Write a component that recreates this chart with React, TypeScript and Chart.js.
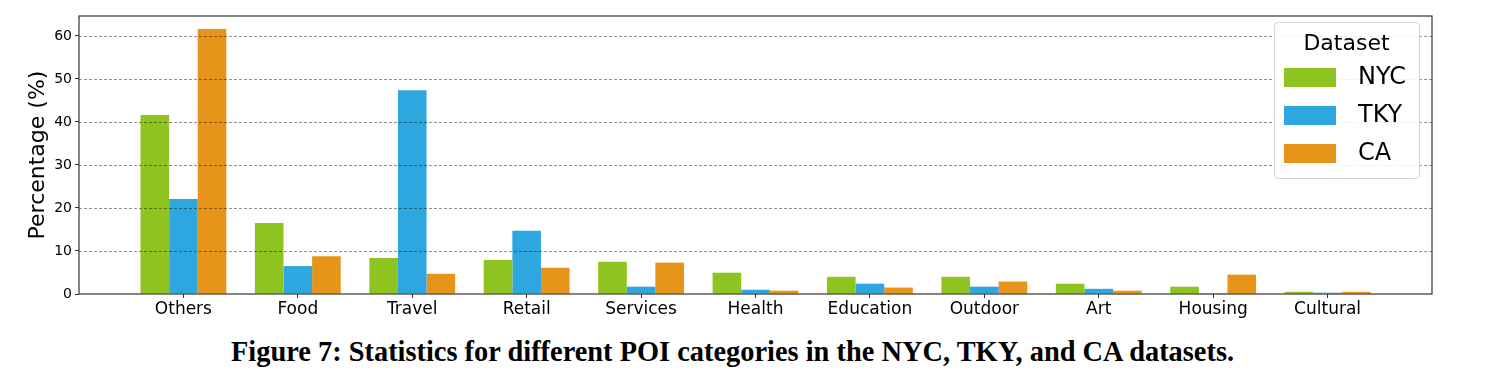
import React, { useEffect, useRef } from 'react';
import { Chart, registerables } from 'chart.js';

Chart.register(...registerables);

const categories = ['Others', 'Food', 'Travel', 'Retail', 'Services', 'Health', 'Education', 'Outdoor', 'Art', 'Housing', 'Cultural'];
const seriesNames = ['NYC', 'TKY', 'CA'];
const nycValues = [41.6, 16.5, 8.4, 7.9, 7.5, 4.95, 4.0, 4.0, 2.4, 1.7, 0.5];
const tkyValues = [22.1, 6.5, 47.4, 14.7, 1.7, 1.0, 2.4, 1.7, 1.2, 0.05, 0.3];
const caValues = [61.6, 8.8, 4.7, 6.1, 7.3, 0.77, 1.5, 2.9, 0.77, 4.5, 0.5];
const yTickValues = [0, 10, 20, 30, 40, 50, 60];

const seriesColors = ['#8fc31f', '#2ea7e0', '#e6941a'];
const legendTitle = 'Dataset';
const yTitle = 'Percentage (%)';
const caption = 'Figure 7: Statistics for different POI categories in the NYC, TKY, and CA datasets.';

const gridAndFrame = {
  id: 'gridAndFrame',
  afterDatasetsDraw(chart: any) {
    const { ctx, chartArea, scales } = chart;
    const y = scales.y;
    ctx.save();
    ctx.strokeStyle = 'rgba(0,0,0,0.55)';
    ctx.lineWidth = 0.8;
    ctx.setLineDash([3, 2]);
    y.ticks.forEach((t: any) => {
      if (t.value === 0) return;
      const py = Math.round(y.getPixelForValue(t.value)) + 0.5;
      ctx.beginPath();
      ctx.moveTo(chartArea.left, py);
      ctx.lineTo(chartArea.right, py);
      ctx.stroke();
    });
    ctx.setLineDash([]);
    ctx.strokeStyle = '#333';
    ctx.lineWidth = 1.2;
    ctx.strokeRect(
      Math.round(chartArea.left),
      Math.round(chartArea.top),
      Math.round(chartArea.right - chartArea.left),
      Math.round(chartArea.bottom - chartArea.top)
    );
    ctx.restore();
  },
};

const boxedLegend = {
  id: 'boxedLegend',
  afterDraw(chart: any) {
    const { ctx, chartArea } = chart;
    const w = 145;
    const h = 156;
    const x0 = Math.round(chartArea.right - 13 - w);
    const y0 = Math.round(chartArea.top + 6);
    ctx.save();
    ctx.beginPath();
    ctx.roundRect(x0 + 0.5, y0 + 0.5, w, h, 4);
    ctx.fillStyle = 'rgba(255,255,255,0.85)';
    ctx.fill();
    ctx.strokeStyle = '#d4d4d4';
    ctx.lineWidth = 1;
    ctx.stroke();
    ctx.fillStyle = '#000';
    ctx.font = '22px "DejaVu Sans"';
    ctx.textAlign = 'center';
    ctx.textBaseline = 'alphabetic';
    ctx.fillText(legendTitle, x0 + w / 2, y0 + 27.5);
    chart.data.datasets.forEach((ds: any, i: number) => {
      const sy = y0 + 46 + i * 38;
      ctx.fillStyle = ds.backgroundColor;
      ctx.fillRect(x0 + 10, sy, 52, 19);
      ctx.fillStyle = '#000';
      ctx.font = '24px "DejaVu Sans"';
      ctx.textAlign = 'left';
      ctx.textBaseline = 'middle';
      ctx.fillText(ds.label, x0 + 84, sy + 10);
    });
    ctx.restore();
  },
};

export default function App() {
  const ref = useRef<HTMLCanvasElement | null>(null);

  useEffect(() => {
    if (!ref.current) return;
    const all = [nycValues, tkyValues, caValues];
    const chart = new Chart(ref.current, {
      type: 'bar',
      data: {
        datasets: seriesNames.map((name, s) => ({
          label: name,
          data: all[s].map((v, i) => ({ x: i, y: v })),
          backgroundColor: seriesColors[s],
          borderWidth: 0,
          categoryPercentage: 0.75,
          barPercentage: 1.0,
        })),
      },
      options: {
        responsive: false,
        animation: false,
        layout: { padding: { top: 16, right: 56, left: 0, bottom: 0 } },
        plugins: {
          legend: { display: false },
          tooltip: { enabled: false },
        },
        scales: {
          x: {
            type: 'linear',
            offset: false,
            min: -0.9125,
            max: 10.9125,
            afterBuildTicks: (scale: any) => {
              scale.ticks = categories.map((_, i) => ({ value: i }));
            },
            afterFit: (scale: any) => {
              scale.height = 36;
            },
            ticks: {
              autoSkip: false,
              maxRotation: 0,
              minRotation: 0,
              padding: 1.5,
              color: '#000',
              font: { family: '"DejaVu Sans"', size: 17 },
              callback: (v: any) => categories[Math.round(Number(v))] ?? '',
            },
            grid: {
              display: true,
              offset: false,
              drawOnChartArea: false,
              drawTicks: true,
              tickLength: 4,
              color: 'rgba(0,0,0,0)',
              tickColor: '#333',
              tickWidth: 1,
            },
            border: { display: false },
          },
          y: {
            type: 'linear',
            min: 0,
            max: 64.65,
            afterBuildTicks: (scale: any) => {
              scale.ticks = yTickValues.map((v) => ({ value: v }));
            },
            afterFit: (scale: any) => {
              scale.width = 79;
            },
            ticks: {
              padding: 3,
              color: '#000',
              font: { family: '"DejaVu Sans"', size: 14 },
              callback: (v: any) => String(v),
            },
            grid: {
              display: true,
              drawOnChartArea: false,
              drawTicks: true,
              tickLength: 4,
              color: 'rgba(0,0,0,0)',
              tickColor: '#333',
              tickWidth: 1,
            },
            border: { display: false },
            title: {
              display: true,
              text: yTitle,
              color: '#000',
              font: { family: '"DejaVu Sans"', size: 22 },
              padding: { top: 25, bottom: 0 },
            },
          },
        },
      },
      plugins: [gridAndFrame, boxedLegend],
    } as any);
    return () => chart.destroy();
  }, []);

  return (
    <div style={{ position: 'absolute', left: 0, top: 0, width: 1488, height: 381, background: '#fff' }}>
      <canvas ref={ref} width={1488} height={330} style={{ display: 'block', width: 1488, height: 330 }} />
      <div
        style={{
          position: 'absolute',
          left: 0,
          width: 1465,
          top: 338,
          textAlign: 'center',
          fontFamily: '"Liberation Serif", serif',
          fontWeight: 'bold',
          fontSize: 28.4,
          lineHeight: 1,
          color: '#000',
          whiteSpace: 'nowrap',
        }}
      >
        {caption}
      </div>
    </div>
  );
}
